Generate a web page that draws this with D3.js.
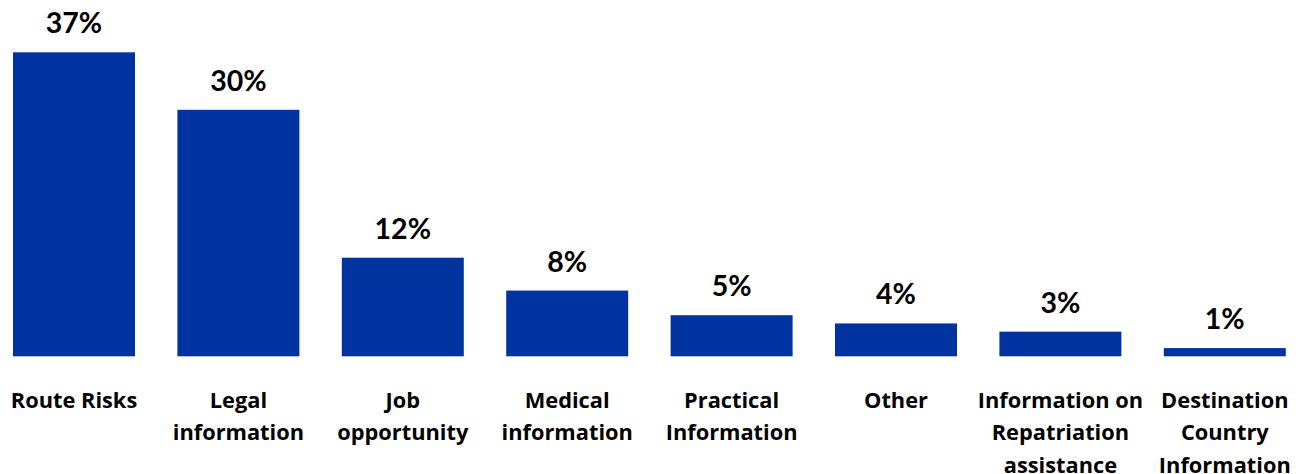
<!DOCTYPE html>
<html>
<head>
<meta charset="utf-8">
<script src="https://cdn.jsdelivr.net/npm/d3@7"></script>
<style>
  html, body { margin: 0; padding: 0; background: #fff; }
  svg { display: block; }
</style>
</head>
<body>
<svg id="chart" width="1304" height="474"></svg>
<script>
// Information needs, share of respondents (%)
const categories = [
  ["Route Risks"],
  ["Legal", "information"],
  ["Job", "opportunity"],
  ["Medical", "information"],
  ["Practical", "Information"],
  ["Other"],
  ["Information on", "Repatriation", "assistance"],
  ["Destination", "Country", "Information"]
];
const values = [37, 30, 12, 8, 5, 4, 3, 1];
const valueLabels = ["37%", "30%", "12%", "8%", "5%", "4%", "3%", "1%"];

const W = 1304, H = 474;
const baseline = 356.3;
const barColor = "#0033a0";
const valueFont = "Lato, 'Open Sans', sans-serif";
const labelFont = "'Open Sans', Lato, sans-serif";

const svg = d3.select("#chart");
const keys = categories.map((c, i) => i);

const x = d3.scaleBand()
  .domain(keys)
  .range([-8.2, 1307])
  .paddingInner(0.258)
  .paddingOuter(0.129);

const y = d3.scaleLinear()
  .domain([0, 37])
  .range([baseline, baseline - 304]);

// bars
svg.append("g")
  .selectAll("rect")
  .data(values)
  .join("rect")
  .attr("x", (d, i) => x(i))
  .attr("y", d => y(d))
  .attr("width", x.bandwidth())
  .attr("height", d => y(0) - y(d))
  .attr("fill", barColor);

// value labels above each bar
svg.append("g")
  .selectAll("text")
  .data(values)
  .join("text")
  .attr("x", (d, i) => x(i) + x.bandwidth() / 2)
  .attr("y", d => y(d) - 19)
  .attr("text-anchor", "middle")
  .attr("font-family", valueFont)
  .attr("font-weight", 700)
  .attr("font-size", 28.5)
  .attr("fill", "#000")
  .text((d, i) => valueLabels[i]);

// category axis labels (multi-line)
const xAxis = d3.axisBottom(x).tickSize(0).tickFormat(() => "");
const axisG = svg.append("g")
  .attr("transform", `translate(0,${baseline})`)
  .call(xAxis);
axisG.select(".domain").remove();

axisG.selectAll(".tick text")
  .attr("y", 0)
  .attr("dy", null)
  .attr("font-family", labelFont)
  .attr("font-weight", 700)
  .attr("font-size", 21.8)
  .attr("fill", "#000")
  .each(function(i) {
    const t = d3.select(this);
    categories[i].forEach((line, k) => {
      t.append("tspan")
        .attr("x", 0)
        .attr("y", 51.7 + k * 32.5)
        .text(line);
    });
  });
</script>
</body>
</html>
